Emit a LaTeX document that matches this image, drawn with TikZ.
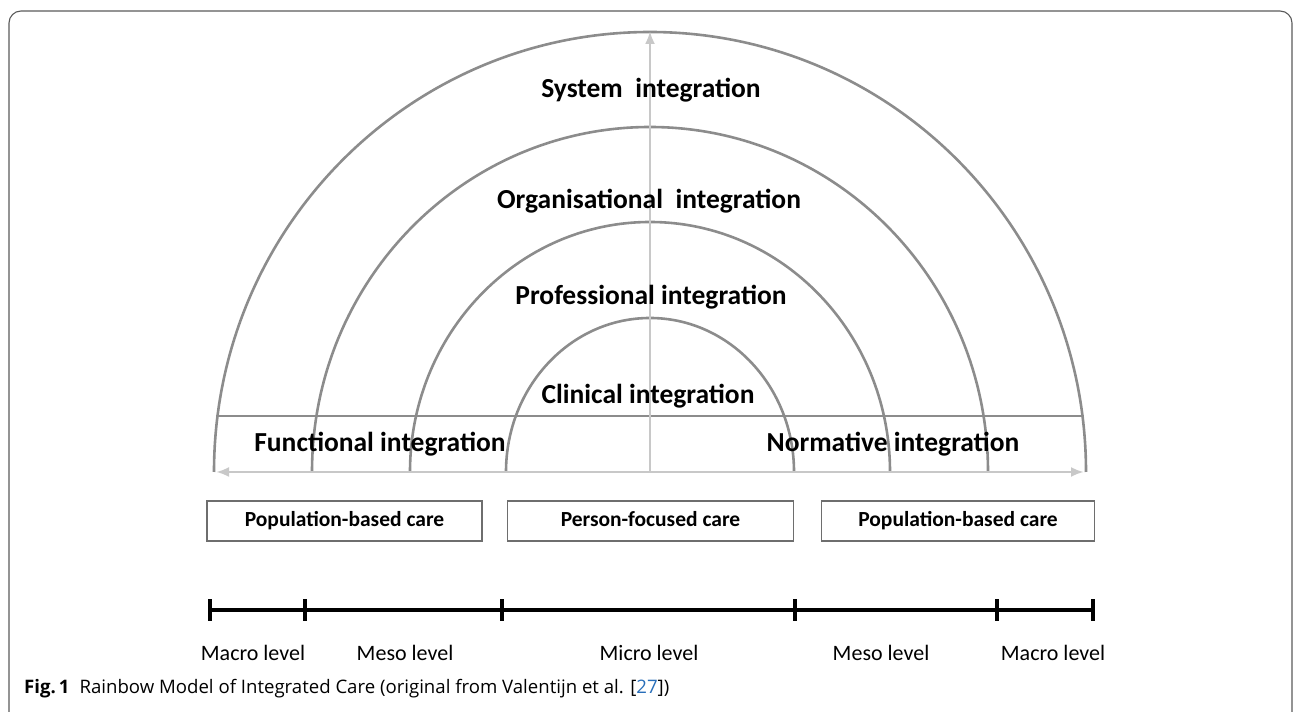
\documentclass[tikz,border=0pt]{standalone}
\usepackage{fontspec}
\setmainfont{Carlito}
\newfontfamily\capfont{Open Sans}
\usetikzlibrary{arrows.meta}
\definecolor{arcgray}{RGB}{140,140,140}
\definecolor{lightgray2}{RGB}{200,200,200}
\definecolor{boxgray}{RGB}{110,110,110}
\definecolor{bordergray}{RGB}{90,90,90}
\definecolor{reflink}{RGB}{40,110,185}
\begin{document}
\begin{tikzpicture}[x=1pt,y=1pt,
  arcline/.style={draw=arcgray,line width=2.6pt},
  axisarrow/.style={draw=lightgray2,line width=2.6pt},
  ringlabel/.style={font=\fontsize{27.5}{30}\selectfont\bfseries,inner sep=0pt},
  carebox/.style={draw=boxgray,line width=1.4pt,minimum height=40pt,inner sep=0pt,
    text height=15pt,text depth=4pt,font=\fontsize{21.5}{24}\selectfont\bfseries},
  levellabel/.style={font=\fontsize{22}{24}\selectfont,inner sep=0pt,text height=15pt,text depth=4pt},
  timeline/.style={draw=black,line width=3.2pt},
]
\useasboundingbox (0,0) rectangle (1296,712);
\draw[bordergray,line width=1.1pt,rounded corners=12pt] (9,-12) rectangle (1292,701);

% arcs
\coordinate (c) at (650,240);
\draw[arcline] (c) ++(-436,0) arc[start angle=180,end angle=0,x radius=436,y radius=440];
\draw[arcline] (c) ++(-338,0) arc[start angle=180,end angle=0,x radius=338,y radius=345];
\draw[arcline] (c) ++(-240,0) arc[start angle=180,end angle=0,x radius=240,y radius=250];
\draw[arcline] (c) ++(-144,0) arc[start angle=180,end angle=0,x radius=144,y radius=154];
\coordinate (hl) at (216,296);
\coordinate (hr) at (1084,296);
\draw[arcline] (hl) -- (hr);

% axes
\coordinate (vtop) at (650,681);
\coordinate (bl) at (216,240);
\coordinate (br) at (1084,240);
\draw[axisarrow,-{Latex[length=13pt,width=10pt]}] (c) -- (vtop);
\draw[axisarrow,{Latex[length=13pt,width=10pt]}-{Latex[length=13pt,width=10pt]}] (bl) -- (br);

% ring labels
\node[ringlabel] (sys) at (651,622) {System\ \ integration};
\node[ringlabel] (org) at (649,511) {Organisational\ \ integration};
\node[ringlabel] (pro) at (651,415) {Professional integration};
\node[ringlabel] (cli) at (648,316) {Clinical integration};
\node[ringlabel] (fun) at (380,268) {Functional integration};
\node[ringlabel] (nor) at (893,268) {Normative integration};

% boxes
\node[carebox,minimum width=275pt] (pb1) at (344.5,191) {Population-based care};
\node[carebox,minimum width=286pt] (pf) at (650.5,191) {Person-focused care};
\node[carebox,minimum width=273pt] (pb2) at (958,191) {Population-based care};

% timeline
\coordinate (t1) at (210,102);
\coordinate (t2) at (305,102);
\coordinate (t3) at (502,102);
\coordinate (t4) at (795,102);
\coordinate (t5) at (997,102);
\coordinate (t6) at (1093,102);
\draw[timeline] (t1) -- (t6);
\foreach \t in {t1,t2,t3,t4,t5,t6}
  \draw[timeline] (\t) ++(0,-11) -- ++(0,22);

\node[levellabel] (l1) at (253,57) {Macro level};
\node[levellabel] (l2) at (405,57) {Meso level};
\node[levellabel] (l3) at (649,57) {Micro level};
\node[levellabel] (l4) at (881,57) {Meso level};
\node[levellabel] (l5) at (1053,57) {Macro level};

% caption
\node[anchor=west,inner sep=0pt,font=\capfont\fontsize{18.6}{21}\selectfont] (cap) at (24,23)
  {\textbf{Fig.\,1}\hspace{10pt}Rainbow Model of Integrated Care (original from Valentijn et al. [\textcolor{reflink}{27}])};
\end{tikzpicture}
\end{document}
